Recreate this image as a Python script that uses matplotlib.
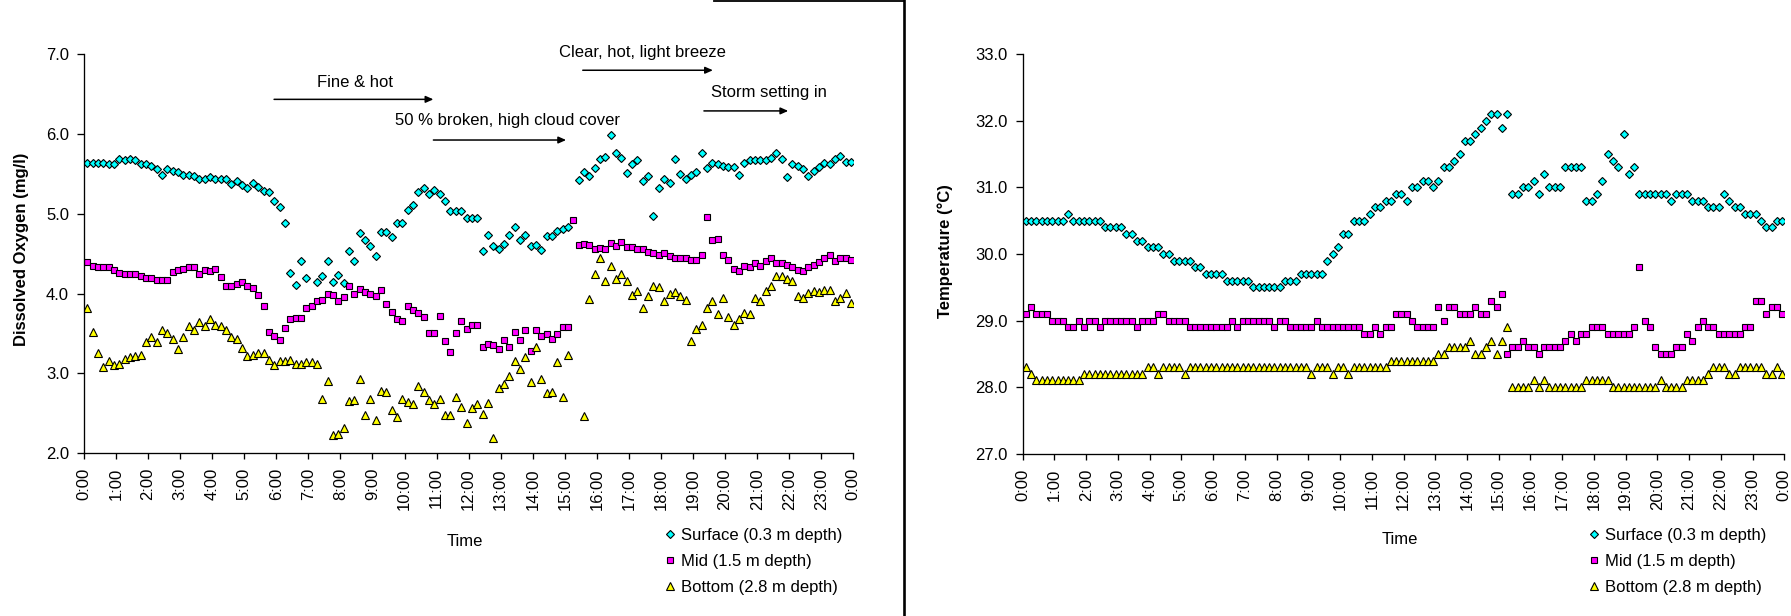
import matplotlib.pyplot as plt
import numpy as np
from matplotlib.lines import Line2D

plt.rcParams['font.family'] = ['Liberation Sans', 'DejaVu Sans']

nan = np.nan

# logger readings every 10 minutes through one day
sample_minutes = np.arange(6, 1440, 10)
hours = sample_minutes / 60.0
hour_labels = ['%d:00' % (h % 24) for h in range(25)]
series_names = ['Surface (0.3 m depth)', 'Mid (1.5 m depth)', 'Bottom (2.8 m depth)']

# dissolved oxygen (mg/l)
do_surface = [
    5.64, 5.64, 5.64, 5.64, 5.63, 5.62, 5.69, 5.67, 5.69, 5.67, 5.62, 5.62,
    5.60, 5.56, 5.49, 5.56, 5.54, 5.53, 5.49, 5.49, 5.48, 5.44, 5.44, 5.46,
    5.44, 5.43, 5.44, 5.37, 5.41, 5.36, 5.32, 5.39, 5.34, 5.29, 5.27, 5.16,
    5.09, 4.88, 4.26, 4.11, 4.41, 4.20, nan, 4.15, 4.22, 4.41, 4.15, 4.23,
    4.13, 4.53, 4.41, 4.76, 4.67, 4.60, 4.47, 4.77, 4.77, 4.71, 4.88, 4.88,
    5.05, 5.11, 5.27, 5.32, 5.25, 5.30, 5.25, 5.16, 5.04, 5.03, 5.04, 4.95,
    4.95, 4.95, 4.53, 4.74, 4.60, 4.56, 4.62, 4.74, 4.84, 4.67, 4.74, 4.59,
    4.61, 4.54, 4.72, 4.72, 4.79, 4.81, 4.83, nan, 5.42, 5.53, 5.48, 5.58,
    5.69, 5.71, 5.99, 5.76, 5.70, 5.51, 5.62, 5.67, 5.41, 5.48, 4.97, 5.32,
    5.44, 5.39, 5.69, 5.50, 5.44, 5.49, 5.53, 5.76, 5.58, 5.64, 5.62, 5.60,
    5.59, 5.59, 5.49, 5.64, 5.67, 5.67, 5.67, 5.67, 5.70, 5.76, 5.69, 5.46,
    5.62, 5.60, 5.56, 5.48, 5.54, 5.59, 5.64, 5.62, 5.69, 5.73, 5.65, 5.65,
]
do_mid = [
    4.40, 4.35, 4.33, 4.33, 4.33, 4.30, 4.26, 4.24, 4.24, 4.24, 4.22, 4.19,
    4.19, 4.17, 4.17, 4.17, 4.27, 4.30, 4.31, 4.33, 4.33, 4.24, 4.30, 4.28,
    4.31, 4.21, 4.10, 4.10, 4.12, 4.14, 4.10, 4.07, 3.98, 3.84, 3.52, 3.47,
    3.42, 3.57, 3.68, 3.69, 3.69, 3.82, 3.84, 3.91, 3.92, 4.00, 3.98, 3.91,
    3.96, 4.10, 4.00, 4.06, 4.02, 4.00, 3.97, 4.05, 3.87, 3.77, 3.68, 3.65,
    3.84, 3.79, 3.75, 3.70, 3.50, 3.50, 3.72, 3.40, 3.27, 3.50, 3.66, 3.55,
    3.61, 3.61, 3.33, 3.37, 3.35, 3.31, 3.42, 3.33, 3.52, 3.42, 3.54, 3.28,
    3.54, 3.47, 3.49, 3.43, 3.49, 3.58, 3.58, 4.92, 4.61, 4.62, 4.61, 4.56,
    4.57, 4.56, 4.63, 4.59, 4.65, 4.58, 4.58, 4.56, 4.56, 4.52, 4.51, 4.48,
    4.51, 4.47, 4.45, 4.45, 4.45, 4.42, 4.42, 4.48, 4.96, 4.67, 4.68, 4.48,
    4.42, 4.31, 4.28, 4.35, 4.33, 4.38, 4.35, 4.41, 4.44, 4.38, 4.38, 4.36,
    4.33, 4.30, 4.28, 4.33, 4.36, 4.40, 4.44, 4.48, 4.41, 4.45, 4.44, 4.42,
]
do_bottom = [
    3.82, 3.52, 3.26, 3.08, 3.16, 3.10, 3.12, 3.18, 3.21, 3.22, 3.23, 3.39,
    3.45, 3.39, 3.54, 3.50, 3.43, 3.31, 3.45, 3.59, 3.54, 3.64, 3.59, 3.68,
    3.61, 3.59, 3.54, 3.45, 3.43, 3.32, 3.22, 3.23, 3.25, 3.25, 3.17, 3.10,
    3.16, 3.16, 3.17, 3.12, 3.12, 3.14, 3.14, 3.12, 2.68, 2.90, 2.22, 2.24,
    2.31, 2.65, 2.66, 2.93, 2.48, 2.68, 2.41, 2.78, 2.76, 2.54, 2.45, 2.68,
    2.64, 2.62, 2.84, 2.76, 2.66, 2.61, 2.68, 2.48, 2.48, 2.70, 2.58, 2.38,
    2.56, 2.61, 2.49, 2.63, 2.19, 2.81, 2.86, 2.96, 3.16, 3.05, 3.21, 2.89,
    3.33, 2.93, 2.75, 2.77, 3.14, 2.70, 3.23, nan, nan, 2.47, 3.93, 4.25,
    4.45, 4.16, 4.34, 4.18, 4.24, 4.16, 3.98, 4.03, 3.82, 3.97, 4.10, 4.08,
    3.90, 3.99, 4.02, 3.97, 3.92, 3.40, 3.56, 3.61, 3.82, 3.91, 3.74, 3.95,
    3.70, 3.61, 3.68, 3.76, 3.74, 3.95, 3.91, 4.03, 4.10, 4.22, 4.22, 4.18,
    4.16, 3.97, 3.94, 4.01, 4.03, 4.02, 4.05, 4.05, 3.90, 3.95, 4.01, 3.88,
]

# water temperature (deg C)
temp_surface = [
    30.5, 30.5, 30.5, 30.5, 30.5, 30.5, 30.5, 30.5, 30.6, 30.5, 30.5, 30.5,
    30.5, 30.5, 30.5, 30.4, 30.4, 30.4, 30.4, 30.3, 30.3, 30.2, 30.2, 30.1,
    30.1, 30.1, 30.0, 30.0, 29.9, 29.9, 29.9, 29.9, 29.8, 29.8, 29.7, 29.7,
    29.7, 29.7, 29.6, 29.6, 29.6, 29.6, 29.6, 29.5, 29.5, 29.5, 29.5, 29.5,
    29.5, 29.6, 29.6, 29.6, 29.7, 29.7, 29.7, 29.7, 29.7, 29.9, 30.0, 30.1,
    30.3, 30.3, 30.5, 30.5, 30.5, 30.6, 30.7, 30.7, 30.8, 30.8, 30.9, 30.9,
    30.8, 31.0, 31.0, 31.1, 31.1, 31.0, 31.1, 31.3, 31.3, 31.4, 31.5, 31.7,
    31.7, 31.8, 31.9, 32.0, 32.1, 32.1, 31.9, 32.1, 30.9, 30.9, 31.0, 31.0,
    31.1, 30.9, 31.2, 31.0, 31.0, 31.0, 31.3, 31.3, 31.3, 31.3, 30.8, 30.8,
    30.9, 31.1, 31.5, 31.4, 31.3, 31.8, 31.2, 31.3, 30.9, 30.9, 30.9, 30.9,
    30.9, 30.9, 30.8, 30.9, 30.9, 30.9, 30.8, 30.8, 30.8, 30.7, 30.7, 30.7,
    30.9, 30.8, 30.7, 30.7, 30.6, 30.6, 30.6, 30.5, 30.4, 30.4, 30.5, 30.5,
]
temp_mid = [
    29.1, 29.2, 29.1, 29.1, 29.1, 29.0, 29.0, 29.0, 28.9, 28.9, 29.0, 28.9,
    29.0, 29.0, 28.9, 29.0, 29.0, 29.0, 29.0, 29.0, 29.0, 28.9, 29.0, 29.0,
    29.0, 29.1, 29.1, 29.0, 29.0, 29.0, 29.0, 28.9, 28.9, 28.9, 28.9, 28.9,
    28.9, 28.9, 28.9, 29.0, 28.9, 29.0, 29.0, 29.0, 29.0, 29.0, 29.0, 28.9,
    29.0, 29.0, 28.9, 28.9, 28.9, 28.9, 28.9, 29.0, 28.9, 28.9, 28.9, 28.9,
    28.9, 28.9, 28.9, 28.9, 28.8, 28.8, 28.9, 28.8, 28.9, 28.9, 29.1, 29.1,
    29.1, 29.0, 28.9, 28.9, 28.9, 28.9, 29.2, 29.0, 29.2, 29.2, 29.1, 29.1,
    29.1, 29.2, 29.1, 29.1, 29.3, 29.2, 29.4, 28.5, 28.6, 28.6, 28.7, 28.6,
    28.6, 28.5, 28.6, 28.6, 28.6, 28.6, 28.7, 28.8, 28.7, 28.8, 28.8, 28.9,
    28.9, 28.9, 28.8, 28.8, 28.8, 28.8, 28.8, 28.9, 29.8, 29.0, 28.9, 28.6,
    28.5, 28.5, 28.5, 28.6, 28.6, 28.8, 28.7, 28.9, 29.0, 28.9, 28.9, 28.8,
    28.8, 28.8, 28.8, 28.8, 28.9, 28.9, 29.3, 29.3, 29.1, 29.2, 29.2, 29.1,
]
temp_bottom = [
    28.3, 28.2, 28.1, 28.1, 28.1, 28.1, 28.1, 28.1, 28.1, 28.1, 28.1, 28.2,
    28.2, 28.2, 28.2, 28.2, 28.2, 28.2, 28.2, 28.2, 28.2, 28.2, 28.2, 28.3,
    28.3, 28.2, 28.3, 28.3, 28.3, 28.3, 28.2, 28.3, 28.3, 28.3, 28.3, 28.3,
    28.3, 28.3, 28.3, 28.3, 28.3, 28.3, 28.3, 28.3, 28.3, 28.3, 28.3, 28.3,
    28.3, 28.3, 28.3, 28.3, 28.3, 28.3, 28.2, 28.3, 28.3, 28.3, 28.2, 28.3,
    28.3, 28.2, 28.3, 28.3, 28.3, 28.3, 28.3, 28.3, 28.3, 28.4, 28.4, 28.4,
    28.4, 28.4, 28.4, 28.4, 28.4, 28.4, 28.5, 28.5, 28.6, 28.6, 28.6, 28.6,
    28.7, 28.5, 28.5, 28.6, 28.7, 28.5, 28.7, 28.9, 28.0, 28.0, 28.0, 28.0,
    28.1, 28.0, 28.1, 28.0, 28.0, 28.0, 28.0, 28.0, 28.0, 28.0, 28.1, 28.1,
    28.1, 28.1, 28.1, 28.0, 28.0, 28.0, 28.0, 28.0, 28.0, 28.0, 28.0, 28.0,
    28.1, 28.0, 28.0, 28.0, 28.0, 28.1, 28.1, 28.1, 28.1, 28.2, 28.3, 28.3,
    28.3, 28.2, 28.2, 28.3, 28.3, 28.3, 28.3, 28.3, 28.2, 28.2, 28.3, 28.2,
]

# weather notes above the oxygen panel: text, text x, baseline y, arrow start, arrow end, arrow y
weather_notes = [
    ('Fine & hot', 8.47, 6.59, 5.93, 10.90, 6.435),
    ('50 % broken, high cloud cover', 13.20, 6.11, 10.90, 15.04, 5.925),
    ('Clear, hot, light breeze', 17.41, 6.97, 15.56, 19.62, 6.80),
    ('Storm setting in', 21.38, 6.46, 19.34, 21.97, 6.29),
]

W, H = 1791, 616
FS = 12
marker_styles = [
    dict(marker='D', ms=4.1, mfc='#00FFFF'),
    dict(marker='s', ms=4.7, mfc='#FF00FF'),
    dict(marker='^', ms=6.0, mfc='#FFFF00'),
]


def fx(px):
    return px / W


def fy(py):
    return 1 - py / H


def style_axes(ax, ylim, ylabel_text, ylabel_xy):
    ax.set_xlim(0, 24)
    ax.set_ylim(*ylim)
    for side in ('top', 'right'):
        ax.spines[side].set_visible(False)
    for side in ('left', 'bottom'):
        ax.spines[side].set_linewidth(0.95)
    ax.set_xticks(range(25))
    ax.set_xticklabels(hour_labels, rotation=90, fontsize=FS)
    ax.set_yticks(np.arange(ylim[0], ylim[1] + 0.5, 1.0))
    ax.yaxis.set_major_formatter(plt.FormatStrFormatter('%.1f'))
    ax.tick_params(axis='y', length=4.8, width=0.95, pad=6, labelsize=FS)
    ax.tick_params(axis='x', length=4.5, width=0.95, pad=6.3)
    fig.text(fx(ylabel_xy[0]), fy(ylabel_xy[1]), ylabel_text, rotation=90,
             ha='center', va='center', fontsize=FS, fontweight='bold')


def draw_series(ax, series):
    handles = []
    for vals, st in zip(series, marker_styles):
        h, = ax.plot(hours, vals, linestyle='none', mec='black', mew=0.8, **st)
        handles.append(h)
    return handles


fig = plt.figure(figsize=(W / 100, H / 100), dpi=100)

ax1 = fig.add_axes([fx(84), fy(453), fx(853.3 - 84), 398.7 / H])
ax2 = fig.add_axes([fx(1022.7), fy(453.7), fx(1784.3 - 1022.7), 399.4 / H])

h1 = draw_series(ax1, [do_surface, do_mid, do_bottom])
h2 = draw_series(ax2, [temp_surface, temp_mid, temp_bottom])

style_axes(ax1, (2, 7), 'Dissolved Oxygen (mg/l)', (22, 249))
style_axes(ax2, (27, 33), 'Temperature (\u00b0C)', (945.5, 251.5))

fig.text(fx(465), fy(541), 'Time', ha='center', va='center', fontsize=FS)
fig.text(fx(1399.5), fy(540), 'Time', ha='center', va='center', fontsize=FS)

for handles, left in ((h1, 665), (h2, 1589)):
    fig.legend(handles, series_names, loc='upper left',
               bbox_to_anchor=(fx(left), fy(528)), frameon=False, fontsize=FS,
               borderpad=0, borderaxespad=0, handlelength=0.6,
               handletextpad=0.35, labelspacing=0.65, numpoints=1)

for label, tx, ty, x0, x1, ya in weather_notes:
    ax1.text(tx, ty, label, ha='center', va='baseline', fontsize=FS)
    ax1.annotate('', xy=(x1, ya), xytext=(x0, ya), annotation_clip=False,
                 arrowprops=dict(arrowstyle='-|>,head_length=0.45,head_width=0.2',
                                 color='black', lw=1.1, shrinkA=0, shrinkB=0,
                                 mutation_scale=10))

# divider between the two panels
fig.add_artist(Line2D([fx(904), fx(904)], [0, 1], color='black', lw=1.9))
fig.add_artist(Line2D([fx(714), fx(904)], [fy(0.9), fy(0.9)], color='black', lw=1.3))

fig.savefig('out.png', dpi=100)
